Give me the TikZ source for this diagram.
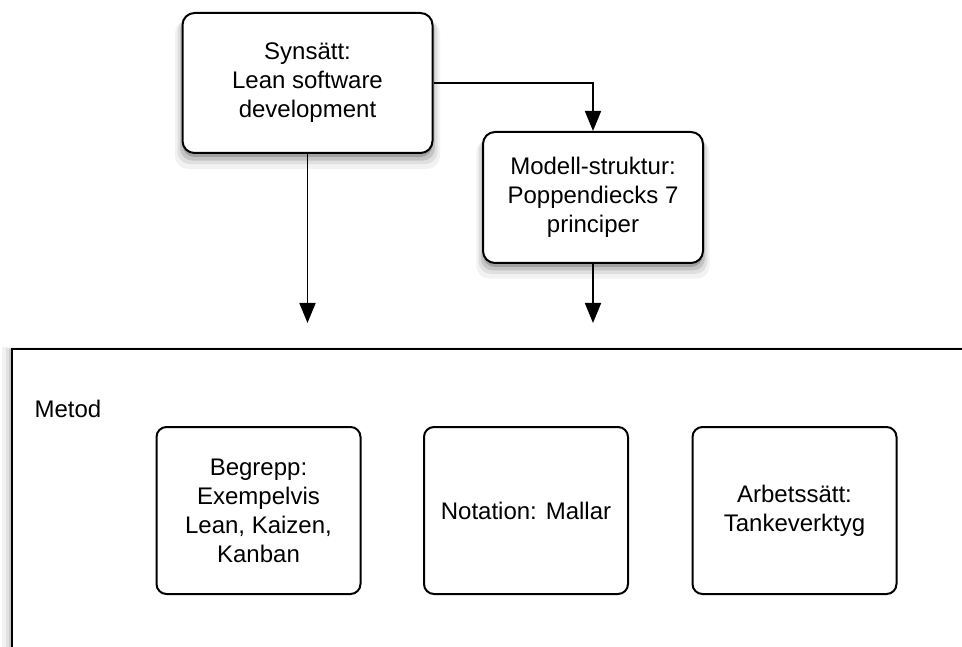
\documentclass[tikz,border=0pt]{standalone}
\usepackage{fontspec}
\setmainfont{Liberation Sans}
\usetikzlibrary{arrows.meta,shadows}

\tikzset{
  x=1pt, y=-1pt,
  softshadow/.style={
    general shadow={fill=black, opacity=0.05, shadow yshift=-11pt, shadow scale=1.06},
    general shadow={fill=black, opacity=0.08, shadow yshift=-8pt, shadow scale=1.04},
    general shadow={fill=black, opacity=0.12, shadow yshift=-6pt, shadow scale=1.02},
    general shadow={fill=black, opacity=0.18, shadow yshift=-4pt, shadow scale=1.00},
  },
  labeltext/.style={font=\fontsize{24}{29}\selectfont, align=center},
  topbox/.style={draw, line width=2, rounded corners=12, fill=white,
    softshadow, labeltext, inner sep=0},
  innerbox/.style={draw, line width=2, rounded corners=10, fill=white,
    labeltext, inner sep=0, minimum width=204, minimum height=167},
  bigbox/.style={draw, line width=2, fill=white, inner sep=0,
    general shadow={fill=black, opacity=0.05, shadow xshift=-10pt, shadow yshift=2pt},
    general shadow={fill=black, opacity=0.07, shadow xshift=-6pt, shadow yshift=1pt},
    general shadow={fill=black, opacity=0.10, shadow xshift=-3pt}},
  arr/.style={line width=1.8, -{Triangle[length=20, width=16]}},
}

\begin{document}
\begin{tikzpicture}
  \useasboundingbox (0,0) rectangle (962,647);
  \clip (0,0) rectangle (962,647);

  % enclosing method frame, running off the right and bottom edges
  \node[bigbox, anchor=north west, minimum width=1000, minimum height=400]
    (metod) at (11,348) {};
  \node[labeltext, anchor=west] (metodlabel) at (31,409) {Metod};

  % the three parts of the method
  \node[innerbox] (begrepp)  at (258.5,510.5) {Begrepp:\\Exempelvis\\Lean, Kaizen,\\Kanban};
  \node[innerbox] (notation) at (526,510.5)   {Notation: Mallar};
  \node[innerbox] (arbete)   at (794.5,510.5) {Arbetssätt:\\Tankeverktyg};

  % view and model structure
  \node[topbox, minimum width=250, minimum height=140] (syn) at (307.5,83)
    {Synsätt:\\Lean software\\development};
  \node[topbox, minimum width=220, minimum height=131] (mod) at (593,197.5)
    {Modell-struktur:\\Poppendiecks 7\\principer};

  \coordinate (synend) at (syn.south |- 0,323);
  \coordinate (modend) at (mod.south |- 0,323);

  \draw[arr] (syn.east) -| (mod.north);
  \draw[arr] (syn.south) -- (synend);
  \draw[arr] (mod.south) -- (modend);
\end{tikzpicture}
\end{document}
